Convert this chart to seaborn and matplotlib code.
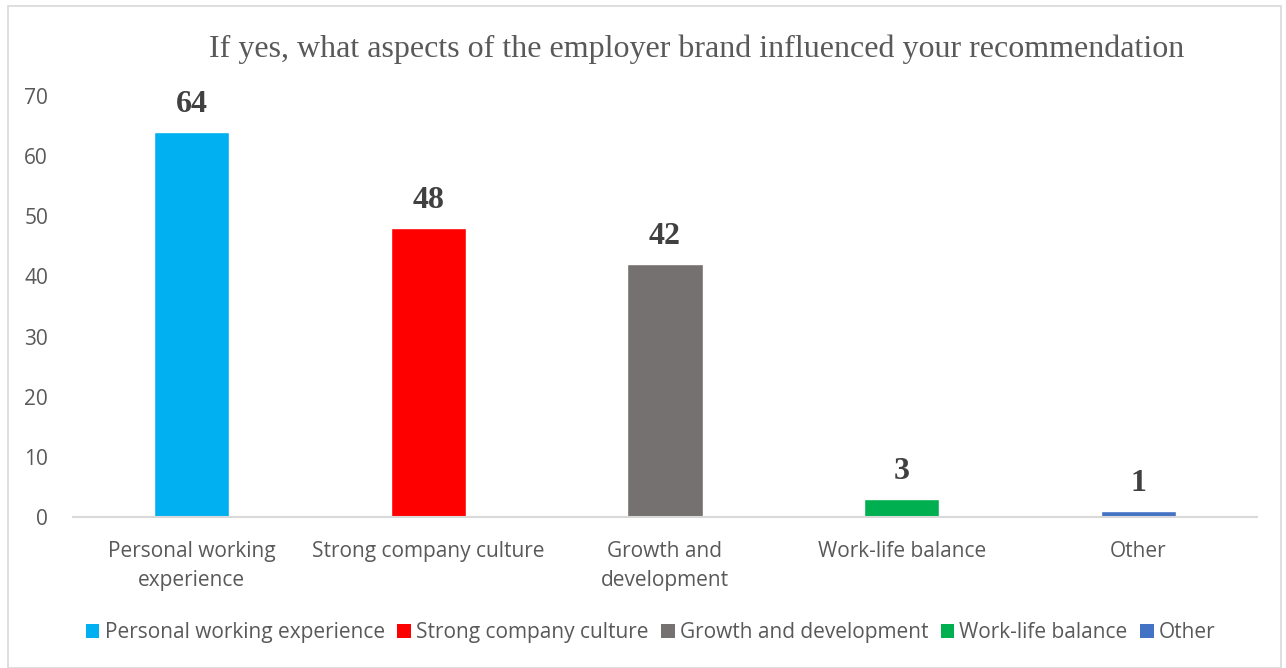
import matplotlib
matplotlib.use("Agg")
import matplotlib.pyplot as plt
import seaborn as sns
import pandas as pd
from matplotlib.patches import Rectangle, Patch

categories = ["Personal working experience", "Strong company culture",
              "Growth and development", "Work-life balance", "Other"]
tick_labels = ["Personal working\nexperience", "Strong company culture",
               "Growth and\ndevelopment", "Work-life balance", "Other"]
counts = [64, 48, 42, 3, 1]
colors = ["#00B0F0", "#FF0000", "#767171", "#00B050", "#4472C4"]

sns.set_theme(style="white")
plt.rcParams["font.family"] = ["Open Sans", "DejaVu Sans"]

df = pd.DataFrame({"aspect": categories, "count": counts})

fig = plt.figure(figsize=(12.86, 6.68), dpi=100)
ax = fig.add_axes([0.0568, 0.226, 0.9206, 0.6303])

sns.barplot(data=df, x="aspect", y="count", hue="aspect", palette=colors,
            width=0.317, legend=False, ax=ax, saturation=1)

ax.set_ylim(0, 70)
ax.set_yticks(range(0, 71, 10))
ax.set_xlim(-0.5, len(categories) - 0.5)
ax.set_xlabel("")
ax.set_ylabel("")
ax.set_xticks(range(len(categories)))
ax.set_xticklabels(tick_labels, fontsize=15, color="#595959", linespacing=1.55)
ax.tick_params(axis="y", labelsize=15, labelcolor="#595959", length=0, pad=18)
ax.tick_params(axis="x", length=0, pad=17)
for lbl in ax.get_yticklabels():
    lbl.set_horizontalalignment("right")

for side in ["top", "right", "left"]:
    ax.spines[side].set_visible(False)
ax.spines["bottom"].set_color("#D9D9D9")
ax.spines["bottom"].set_linewidth(1.5)

for i, v in enumerate(counts):
    ax.text(i, v + 4.6, str(v), ha="center", va="center",
            fontsize=23, fontweight="bold", color="#404040",
            family=["Liberation Serif", "DejaVu Serif"])

fig.text(0.542, 0.926, "If yes, what aspects of the employer brand influenced your recommendation",
         ha="center", va="center", fontsize=23, color="#595959",
         family=["Liberation Serif", "DejaVu Serif"])

handles = [Patch(facecolor=c, edgecolor="none") for c in colors]
fig.legend(handles, categories, loc="center", bbox_to_anchor=(0.506, 0.053),
           ncol=5, frameon=False, fontsize=15, handlelength=0.65,
           handleheight=0.7, handletextpad=0.25, columnspacing=0.6,
           labelcolor="#595959")

fig.patches.append(Rectangle((0.0065, 0.0), 0.9895, 0.991, transform=fig.transFigure,
                             fill=False, edgecolor="#D9D9D9", linewidth=1.2))

fig.savefig("out.png", dpi=100, facecolor="white")
